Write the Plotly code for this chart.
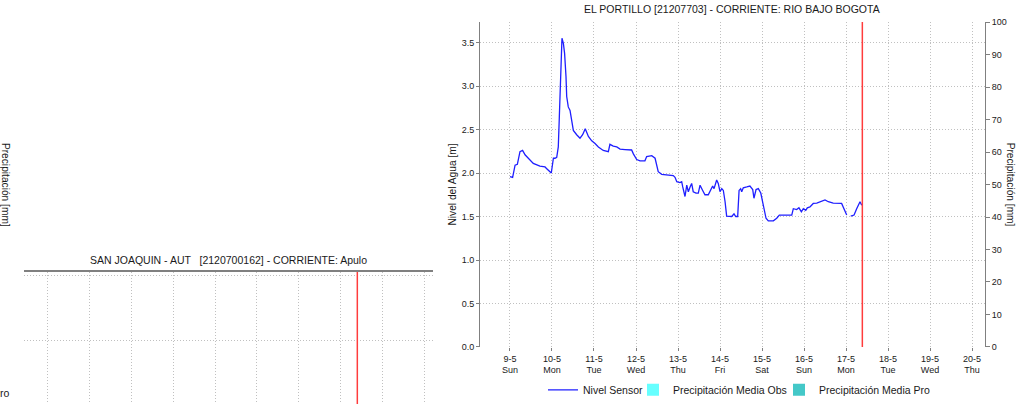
import pandas as pd
import plotly.graph_objects as go

# ---------------- data ----------------
start_date = "2021-05-09 00:00"
now_time = "2021-05-17 09:20"

hours = [0.0, 1.5, 2.9, 4.2, 5.7, 7.2, 8.6, 10.5, 13.3, 17.1, 20.0, 21.0, 22.9, 23.6,
         24.8, 25.7, 26.7, 27.6, 28.2, 28.95, 29.7, 30.5, 31.2, 32.0, 32.4, 33.3, 34.3,
         35.2, 36.2, 38.1, 40.0, 41.5, 43.0, 44.8, 46.7, 48.6, 50.5, 53.3, 56.2, 57.1,
         59.0, 61.0, 62.9, 65.7, 69.5, 70.5, 72.4, 74.3, 77.1, 78.1, 81.0, 82.9, 84.7,
         86.7, 93.3, 94.3, 95.3, 97.1, 98.1, 98.7, 100.0, 101.0, 101.9, 102.9, 103.8,
         104.7, 106.3, 107.6, 108.6, 110.1, 111.4, 113.3, 114.7, 115.8, 116.6, 118.1,
         119.0, 120.0, 121.0, 121.9, 122.9, 123.8, 126.7, 128.0, 129.0, 130.1, 130.9,
         131.8, 132.4, 133.3, 135.3, 137.1, 138.7, 139.4, 140.6, 141.9, 143.3, 144.7,
         146.3, 147.6, 150.5, 152.4, 153.9, 161.0, 161.9, 163.8, 165.1, 166.5, 167.6,
         169.0, 169.9, 171.4, 173.3, 175.3, 178.1, 180.0, 181.9, 184.7, 189.5, 190.9,
         192.4, 193.5, 194.7, 196.6, 198.1, 200.0, 201.0]
nivel = [1.96, 1.95, 2.09, 2.10, 2.245, 2.26, 2.21, 2.17, 2.11, 2.08, 2.07, 2.05, 2.015, 2.00,
         2.17, 2.17, 2.18, 2.30, 2.65, 3.22, 3.55, 3.49, 3.375, 3.11, 2.88, 2.76, 2.72,
         2.61, 2.49, 2.44, 2.40, 2.44, 2.51, 2.42, 2.37, 2.34, 2.30, 2.26, 2.245, 2.33,
         2.31, 2.30, 2.275, 2.27, 2.265, 2.22, 2.155, 2.14, 2.14, 2.19, 2.20, 2.17, 2.015,
         1.985, 1.97, 1.95, 1.90, 1.89, 1.90, 1.84, 1.73, 1.86, 1.785, 1.84, 1.88,
         1.785, 1.77, 1.77, 1.86, 1.80, 1.75, 1.75, 1.81, 1.85, 1.82, 1.92,
         1.88, 1.785, 1.82, 1.80, 1.67, 1.505, 1.50, 1.53, 1.50, 1.50, 1.80,
         1.82, 1.785, 1.83, 1.84, 1.85, 1.81, 1.71, 1.81, 1.82, 1.77, 1.63,
         1.48, 1.45, 1.45, 1.48, 1.517, 1.517, 1.59, 1.58, 1.60, 1.555, 1.59,
         1.57, 1.60, 1.61, 1.65, 1.655, 1.68, 1.69, 1.67, 1.655, 1.65, 1.58,
         1.517, None, 1.505, 1.517, 1.59, 1.67, 1.63]

# precipitation series: no rainfall recorded in the window
precip_obs_x = ["2021-05-09 00:00"]
precip_obs_y = [0]
precip_pro_x = ["2021-05-09 00:00"]
precip_pro_y = [0]

main_title = "EL PORTILLO [21207703] - CORRIENTE: RIO BAJO BOGOTA"
left_title = "SAN JOAQUIN - AUT   [2120700162] - CORRIENTE: Apulo"
level_axis_title = "Nivel del Agua [m]"
precip_axis_title = "Precipitación [mm]"

main_x_range = ["2021-05-08 06:51", "2021-05-20 07:26"]
left_x_range = ["2021-05-09 10:51", "2021-05-19 04:34"]

# --------------------------------------
times = pd.Timestamp(start_date) + pd.to_timedelta(hours, unit="h")

FONT = "Liberation Sans, Arial, sans-serif"
GRID = "#c0c0c0"
GDASH = "1px,2px"
AXIS = "#808080"
TXT = "#1a1a1a"

fig = go.Figure()
fig.add_trace(go.Scatter(x=times, y=nivel, mode="lines", name="Nivel Sensor",
                         line=dict(color="#1f1fff", width=1.3), connectgaps=False,
                         xaxis="x", yaxis="y", legend="legend"))
fig.add_trace(go.Bar(x=pd.to_datetime(precip_obs_x), y=precip_obs_y,
                     name="Precipitación Media Obs",
                     marker=dict(color="#66ffff", line=dict(width=0)),
                     xaxis="x", yaxis="y2", hoverinfo="skip", legend="legend2"))
fig.add_trace(go.Bar(x=pd.to_datetime(precip_pro_x), y=precip_pro_y,
                     name="Precipitación Media Pro",
                     marker=dict(color="#44c8c8", line=dict(width=0)),
                     xaxis="x", yaxis="y2", hoverinfo="skip", legend="legend3"))

def leg(xpx):
    return dict(orientation="h", x=xpx / 1018, y=0.035, xanchor="left", yanchor="middle",
                font=dict(size=10.5, color=TXT), itemwidth=30,
                bgcolor="rgba(0,0,0,0)", borderwidth=0)

day_ms = 86400000
fig.update_layout(
    width=1018, height=404,
    margin=dict(l=0, r=0, t=0, b=0, autoexpand=False),
    paper_bgcolor="white", plot_bgcolor="white",
    font=dict(family=FONT, size=9, color=TXT),
    showlegend=True,
    legend=leg(543),
    legend2=leg(633),
    legend3=leg(779),
    xaxis=dict(domain=[0.4715, 0.9676], anchor="y", type="date", range=main_x_range,
               tick0="2021-05-09", dtick=day_ms, tickformat="%-d-%-m<br>%a",
               showgrid=True, gridcolor=GRID, griddash=GDASH, gridwidth=1,
               showline=False, zeroline=False, ticks="outside", ticklen=3,
               tickcolor=AXIS, tickfont=dict(size=9, color=TXT), automargin=False),
    yaxis=dict(domain=[0.1411, 0.9455], anchor="x", range=[0, 3.736], dtick=0.5,
               tickformat=".1f", showgrid=True, gridcolor=GRID, griddash=GDASH,
               showline=True, linecolor=AXIS, linewidth=1, zeroline=False,
               ticks="outside", ticklen=3, tickcolor=AXIS,
               tickfont=dict(size=9, color=TXT), automargin=False),
    yaxis2=dict(overlaying="y", side="right", anchor="x", range=[0, 100], dtick=10,
                showgrid=False, showline=True, linecolor=AXIS, linewidth=1,
                zeroline=False, ticks="outside", ticklen=4, tickcolor=AXIS,
                tickfont=dict(size=9, color=TXT), automargin=False),
    xaxis2=dict(domain=[0.0236, 0.4253], anchor="y3", type="date", range=left_x_range,
                tick0="2021-05-09", dtick=day_ms, side="top",
                showgrid=True, gridcolor=GRID, griddash=GDASH,
                showline=True, linecolor=AXIS, linewidth=1.5, zeroline=False,
                showticklabels=False, ticks="", automargin=False),
    yaxis3=dict(domain=[0, 0.3267], anchor="x2", range=[0.0154, 2.046], dtick=1,
                showgrid=True, gridcolor=GRID, griddash=GDASH, showline=False,
                zeroline=False, showticklabels=False, ticks="", automargin=False),
    bargap=0.2,
)

# "now" markers
fig.add_shape(type="line", xref="x", yref="y domain", x0=now_time, x1=now_time,
              y0=0, y1=1, line=dict(color="#ff3c3c", width=1.5))
fig.add_shape(type="line", xref="x2", yref="y3 domain", x0=now_time, x1=now_time,
              y0=0, y1=1, line=dict(color="#ff3c3c", width=1.5))

# titles and axis labels
fig.add_annotation(text=main_title, xref="paper", yref="paper", x=0.7195, y=0.978,
                   showarrow=False, font=dict(size=10.5, color=TXT),
                   xanchor="center", yanchor="middle")
fig.add_annotation(text=left_title, xref="paper", yref="paper", x=0.224, y=0.3564,
                   showarrow=False, font=dict(size=10.5, color=TXT),
                   xanchor="center", yanchor="middle")
fig.add_annotation(text=level_axis_title, xref="paper", yref="paper", x=0.4445, y=0.542,
                   textangle=-90, showarrow=False, font=dict(size=10.2, color=TXT),
                   xanchor="center", yanchor="middle")
fig.add_annotation(text=precip_axis_title, xref="paper", yref="paper", x=0.9935, y=0.542,
                   textangle=90, showarrow=False, font=dict(size=10.2, color=TXT),
                   xanchor="center", yanchor="middle")
fig.add_annotation(text=precip_axis_title, xref="paper", yref="paper", x=0.006, y=0.542,
                   textangle=90, showarrow=False, font=dict(size=10.2, color=TXT),
                   xanchor="center", yanchor="middle")
fig.add_annotation(text="ro", xref="paper", yref="paper", x=-0.002, y=0.027,
                   showarrow=False, font=dict(size=10.5, color=TXT),
                   xanchor="left", yanchor="middle")

fig.write_html("out.html", config={"displayModeBar": False},
               post_script="document.body.style.margin='0px';document.body.style.overflow='hidden';")
